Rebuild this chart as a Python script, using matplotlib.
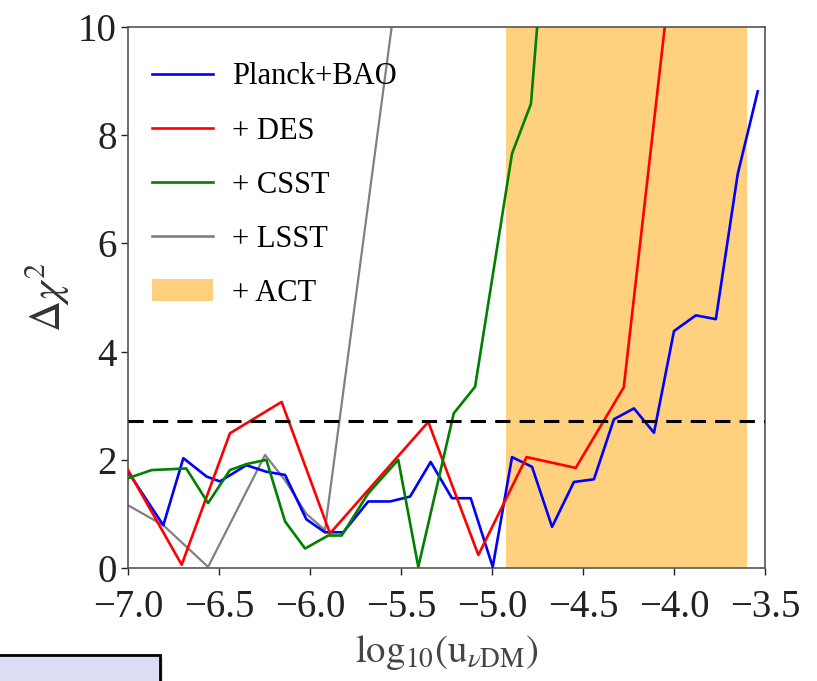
import matplotlib
matplotlib.use("Agg")
import matplotlib.pyplot as plt
from matplotlib.patches import Rectangle, Patch
from matplotlib.lines import Line2D

plt.rcParams['font.family'] = ['Liberation Serif', 'DejaVu Serif']
plt.rcParams['mathtext.fontset'] = 'stix'

# ---- data ----
blue_x = [-7.0, -6.806, -6.696, -6.568, -6.495, -6.35, -6.24, -6.137, -6.02, -5.918,
          -5.817, -5.68, -5.56, -5.45, -5.337, -5.22, -5.117, -4.996, -4.89, -4.78,
          -4.67, -4.55, -4.44, -4.33, -4.22, -4.11, -4.0, -3.88, -3.77, -3.65, -3.54]
blue_y = [1.78, 0.79, 2.03, 1.69, 1.60, 1.90, 1.78, 1.72, 0.90, 0.66,
          0.66, 1.23, 1.23, 1.32, 1.96, 1.29, 1.29, 0.02, 2.05, 1.87,
          0.76, 1.59, 1.64, 2.75, 2.95, 2.50, 4.38, 4.67, 4.60, 7.28, 8.81]

red_x = [-7.0, -6.705, -6.44, -6.156, -5.89, -5.35, -5.075, -4.81, -4.54, -4.276, -4.0]
red_y = [1.81, 0.06, 2.49, 3.07, 0.64, 2.70, 0.24, 2.05, 1.85, 3.34, 11.5]

green_x = [-7.0, -6.87, -6.68, -6.56, -6.44, -6.35, -6.24, -6.137, -6.027, -5.90,
           -5.826, -5.68, -5.515, -5.405, -5.21, -5.093, -4.89, -4.786, -4.68]
green_y = [1.66, 1.81, 1.84, 1.20, 1.81, 1.92, 2.00, 0.86, 0.36, 0.60,
           0.60, 1.38, 2.00, 0.02, 2.86, 3.35, 7.66, 8.58, 13.0]

gray_x = [-7.0, -6.806, -6.56, -6.247, -6.137, -6.02, -5.918, -5.5]
gray_y = [1.16, 0.79, 0.02, 2.09, 1.62, 1.00, 0.70, 11.3]

act_range = (-4.925, -3.60)
threshold = 2.71

labels = ['Planck+BAO', '+ DES', '+ CSST', '+ LSST', '+ ACT']
xticks = [-7.0, -6.5, -6.0, -5.5, -5.0, -4.5, -4.0, -3.5]
yticks = [0, 2, 4, 6, 8, 10]

# ---- figure ----
fig = plt.figure(figsize=(8.17, 6.81), dpi=100)
ax = fig.add_axes([128/817, 1-568/681, (765-128)/817, (568-27)/681])

ax.axvspan(act_range[0], act_range[1], color='orange', alpha=0.5, lw=0, zorder=1)
ax.plot(blue_x, blue_y, color='blue', lw=1.9, zorder=3)
ax.plot(red_x, red_y, color='red', lw=1.9, zorder=3)
ax.plot(green_x, green_y, color='green', lw=1.9, zorder=3)
ax.plot(gray_x, gray_y, color='gray', lw=1.6, zorder=2)
ax.axhline(threshold, color='black', ls=(0, (5, 3)), lw=2.2, zorder=4)

ax.set_xlim(-7.0, -3.5)
ax.set_ylim(0, 10)
ax.set_xticks(xticks)
ax.set_xticklabels(['\u2212%.1f' % abs(v) for v in xticks])
ax.set_yticks(yticks)
ax.tick_params(axis='both', direction='out', length=5, width=1, labelsize=28,
               colors='#222222')
ax.tick_params(axis='x', pad=10)
ax.tick_params(axis='y', pad=3)
for s in ax.spines.values():
    s.set_color('#555555')
    s.set_linewidth(1.2)

ax.set_xlabel(r'$\mathrm{log}_{10}(\mathrm{u}_{\nu\mathrm{DM}})$', fontsize=28,
              color='#444444', labelpad=5)
ax.set_ylabel(r'$\Delta\chi^2$', fontsize=31, color='#333333', labelpad=4)

handles = [Line2D([], [], color='blue', lw=1.9),
           Line2D([], [], color='red', lw=1.9),
           Line2D([], [], color='green', lw=1.9),
           Line2D([], [], color='gray', lw=1.9),
           Patch(facecolor='orange', alpha=0.5, lw=0)]
ax.legend(handles, labels, loc='upper left', frameon=False, fontsize=22,
          handlelength=2.0, handletextpad=0.6, labelspacing=0.82,
          borderpad=0.4, borderaxespad=0.0, bbox_to_anchor=(0.019, 0.957))

# partial box from the surrounding page (bottom left)
fig.patches.append(Rectangle((-0.01, -0.01), 163/817 + 0.01, 30/681,
                             transform=fig.transFigure, facecolor='#cfcfcf',
                             edgecolor='none', alpha=0.6, zorder=0))
fig.patches.append(Rectangle((-0.01, -0.02), 160/817 + 0.01, (681-655)/681 + 0.02,
                             transform=fig.transFigure, facecolor='#dcdcf5',
                             edgecolor='black', lw=2, zorder=1))

fig.savefig('out.png', dpi=100)
